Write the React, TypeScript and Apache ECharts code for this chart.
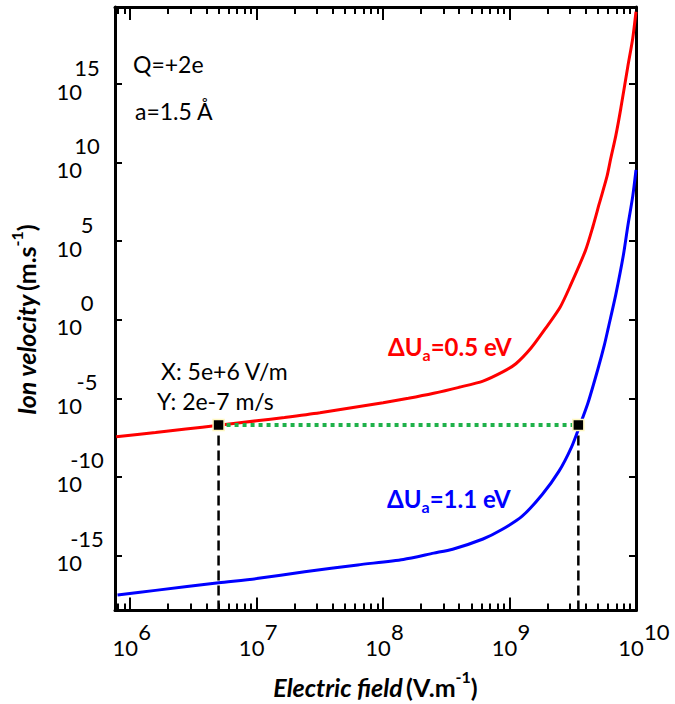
import React, { useEffect, useRef } from "react";
import * as echarts from "echarts";

// Axis extents, in decades (log10 of the value)
const X_MIN = 5.88;
const X_MAX = 10;
const Y_MIN = -18.5;
const Y_MAX = 19.9;

// Tick exponents
const xMajorExponents = [6, 7, 8, 9, 10];
const yMajorExponents = [-15, -10, -5, 0, 5, 10, 15];

// ΔUa = 0.5 eV curve: log10(E [V/m]) and log10(v [m/s])
const redLogE = [5.89, 6.2, 6.44, 6.7, 7.0, 7.22, 7.5, 8.0, 8.2, 8.4, 8.6, 8.79, 8.95, 9.05, 9.17, 9.28, 9.4, 9.48, 9.6, 9.66, 9.71, 9.77, 9.8, 9.84, 9.88, 9.935, 9.974, 10.0];
const redLogV = [-7.45, -7.17, -6.95, -6.72, -6.43, -6.22, -5.92, -5.28, -5.0, -4.68, -4.3, -3.9, -3.3, -2.8, -1.8, -0.6, 0.8, 2.15, 4.4, 5.95, 7.4, 9.1, 10.25, 11.7, 13.45, 16.1, 17.9, 19.6];

// ΔUa = 1.1 eV curve
const blueLogE = [5.9, 6.2, 6.7, 7.0, 7.38, 7.8, 8.16, 8.4, 8.55, 8.79, 8.94, 9.1, 9.26, 9.39, 9.49, 9.556, 9.62, 9.7, 9.75, 9.78, 9.84, 9.9, 9.935, 9.974, 10.0];
const blueLogV = [-17.52, -17.22, -16.74, -16.47, -16.04, -15.6, -15.25, -14.85, -14.6, -13.95, -13.35, -12.5, -11.1, -9.65, -8.1, -6.72, -5.3, -3.1, -1.6, -0.55, 1.6, 4.1, 5.95, 7.85, 9.54];

// Data-cursor points (E in V/m, v in m/s)
const markerE = [5e6, 3.5e9];
const markerV = [2e-7, 2e-7];

const FONT = "Lato";

export default function App() {
  const ref = useRef<HTMLDivElement>(null);

  useEffect(() => {
    if (!ref.current) return;
    const chart = echarts.init(ref.current, undefined, { renderer: "svg" });

    const xMinor: number[] = [];
    for (let n = 5; n <= 9; n++) {
      for (let k = 2; k <= 9; k++) {
        const v = Math.log10(k * Math.pow(10, n));
        if (v > X_MIN && v < X_MAX) xMinor.push(v);
      }
    }

    const axisLineStyle = { color: "#000", width: 3 };
    const tickLineStyle = { color: "#000", width: 2 };
    const tf = { fontFamily: FONT, fontSize: 22, color: "#000" };

    const baseX = { type: "value", min: X_MIN, max: X_MAX, splitLine: { show: false }, gridIndex: 0 };
    const baseY = { type: "value", min: Y_MIN, max: Y_MAX, splitLine: { show: false }, gridIndex: 0 };

    const red = redLogE.map((e, i) => [e, redLogV[i]]);
    const blue = blueLogE.map((e, i) => [e, blueLogV[i]]);
    const mE = markerE.map((v) => Math.log10(v));
    const mV = markerV.map((v) => Math.log10(v));

    const titleRich = {
      bi: { fontFamily: FONT, fontSize: 25, fontWeight: "bold", fontStyle: "italic", color: "#000" },
      b: { fontFamily: FONT, fontSize: 25, fontWeight: "bold", color: "#000" },
      sup: { fontFamily: FONT, fontSize: 16, fontWeight: "bold", color: "#000", padding: [0, 0, 20, 0] },
      sp: { fontFamily: FONT, fontSize: 25, width: 22, color: "#000" },
    };

    const noLine = { show: false, onZero: false };

    const option: any = {
      animation: false,
      grid: { left: 110, right: 39, top: 7, bottom: 92, containLabel: false },
      xAxis: [
        {
          ...baseX,
          position: "bottom",
          axisLine: { show: true, onZero: false, lineStyle: axisLineStyle },
          axisTick: { show: true, inside: true, length: 13, lineStyle: tickLineStyle, customValues: xMajorExponents },
          axisLabel: {
            show: true, customValues: xMajorExponents, formatter: () => "{b|10}",
            margin: 26, align: "center",
            rich: { b: { ...tf, padding: [0, 10, 0, 0] } },
          },
          name: "{bi|Electric field} {b|(V.m}{sup|-1}{b|)}",
          nameLocation: "middle",
          nameGap: 58,
          nameTextStyle: { rich: titleRich },
        },
        {
          ...baseX,
          position: "bottom",
          axisLine: noLine,
          axisTick: { show: true, inside: true, length: 7, lineStyle: tickLineStyle, customValues: xMinor },
          axisLabel: {
            show: true, customValues: xMajorExponents,
            formatter: (v: number) => `{e|${Math.round(v)}}`,
            margin: 10, align: "left",
            rich: { e: { ...tf, padding: [0, 0, 0, 8] } },
          },
        },
        {
          ...baseX,
          position: "top",
          axisLine: { show: true, onZero: false, lineStyle: axisLineStyle },
          axisTick: { show: true, inside: true, length: 13, lineStyle: tickLineStyle, customValues: xMajorExponents },
          axisLabel: { show: false },
        },
        {
          ...baseX,
          position: "top",
          axisLine: noLine,
          axisTick: { show: true, inside: true, length: 7, lineStyle: tickLineStyle, customValues: xMinor },
          axisLabel: { show: false },
        },
      ],
      yAxis: [
        {
          ...baseY,
          position: "left",
          axisLine: { show: true, onZero: false, lineStyle: axisLineStyle },
          axisTick: { show: true, inside: true, length: 7, lineStyle: tickLineStyle, customValues: yMajorExponents },
          axisLabel: {
            show: true, customValues: yMajorExponents, formatter: () => "{b|10}",
            margin: 33, align: "right",
            rich: { b: { ...tf, padding: [14, 0, 0, 0] } },
          },
          name: "{bi|Ion velocity} {b|(m.s}{sup|-1}{b|)}{sp| }",
          nameLocation: "middle",
          nameRotate: 90,
          nameGap: 71,
          nameTextStyle: { rich: titleRich },
        },
        {
          ...baseY,
          position: "left",
          axisLine: noLine,
          axisTick: { show: false },
          axisLabel: {
            show: true, customValues: yMajorExponents,
            formatter: (v: number) => `{e|${Math.round(v)}}`,
            margin: 28, align: "center",
            rich: { e: { ...tf, padding: [0, 0, 34, 0] } },
          },
        },
        {
          ...baseY,
          position: "right",
          axisLine: { show: true, onZero: false, lineStyle: axisLineStyle },
          axisTick: { show: true, inside: true, length: 7, lineStyle: tickLineStyle, customValues: yMajorExponents },
          axisLabel: { show: false },
        },
      ],
      series: [
        {
          type: "line", name: "ΔUa=0.5 eV", data: red, xAxisIndex: 0, yAxisIndex: 0,
          showSymbol: false, smooth: 0.25, clip: true,
          lineStyle: { color: "#ff0000", width: 3 }, z: 3,
        },
        {
          type: "line", name: "ΔUa=1.1 eV", data: blue, xAxisIndex: 0, yAxisIndex: 0,
          showSymbol: false, smooth: 0.25, clip: true,
          lineStyle: { color: "#0000ff", width: 3 }, z: 3,
        },
        {
          type: "line", data: [[mE[0], Y_MIN], [mE[0], mV[0]]], xAxisIndex: 0, yAxisIndex: 0,
          showSymbol: false, lineStyle: { color: "#000", width: 2.5, type: [10, 5] }, z: 2,
        },
        {
          type: "line", data: [[mE[1], Y_MIN], [mE[1], mV[1]]], xAxisIndex: 0, yAxisIndex: 0,
          showSymbol: false, lineStyle: { color: "#000", width: 2.5, type: [10, 5] }, z: 2,
        },
        {
          type: "line", data: mE.map((e, i) => [e, mV[i]]), xAxisIndex: 0, yAxisIndex: 0,
          showSymbol: false, lineStyle: { color: "#1fb14a", width: 4, type: [4, 4], cap: "butt" }, z: 4,
        },
        {
          type: "scatter", data: mE.map((e, i) => [e, mV[i]]), xAxisIndex: 0, yAxisIndex: 0,
          symbol: "rect", symbolSize: 11,
          itemStyle: { color: "#000", borderColor: "#fff7c0", borderWidth: 1.5, opacity: 1 }, z: 5,
        },
      ],
      graphic: [
        { type: "text", left: 133, top: 52, style: { text: "Q=+2e", font: `23px ${FONT}`, fill: "#000" } },
        { type: "text", left: 135, top: 99, style: { text: "a=1.5 Å", font: `23px ${FONT}`, fill: "#000" } },
        { type: "text", left: 161, top: 359, style: { text: "X: 5e+6 V/m", font: `23px ${FONT}`, fill: "#000" } },
        { type: "text", left: 157, top: 389, style: { text: "Y: 2e-7 m/s", font: `23px ${FONT}`, fill: "#000" } },
        {
          type: "text", left: 388, top: 334,
          style: {
            text: "{b|ΔU}{s|a}{b|=0.5 eV}",
            rich: {
              b: { fontFamily: FONT, fontSize: 24, fontWeight: "bold", fill: "#ff0000" },
              s: { fontFamily: FONT, fontSize: 16, fontWeight: "bold", fill: "#ff0000", padding: [16, 0, 0, 0] },
            },
          },
        },
        {
          type: "text", left: 387, top: 486,
          style: {
            text: "{b|ΔU}{s|a}{b|=1.1 eV}",
            rich: {
              b: { fontFamily: FONT, fontSize: 24, fontWeight: "bold", fill: "#0000ff" },
              s: { fontFamily: FONT, fontSize: 16, fontWeight: "bold", fill: "#0000ff", padding: [16, 0, 0, 0] },
            },
          },
        },
      ],
    };

    chart.setOption(option);
    return () => chart.dispose();
  }, []);

  return (
    <div
      ref={ref}
      style={{ position: "fixed", left: 0, top: 0, width: 675, height: 704, background: "#fff" }}
    />
  );
}
